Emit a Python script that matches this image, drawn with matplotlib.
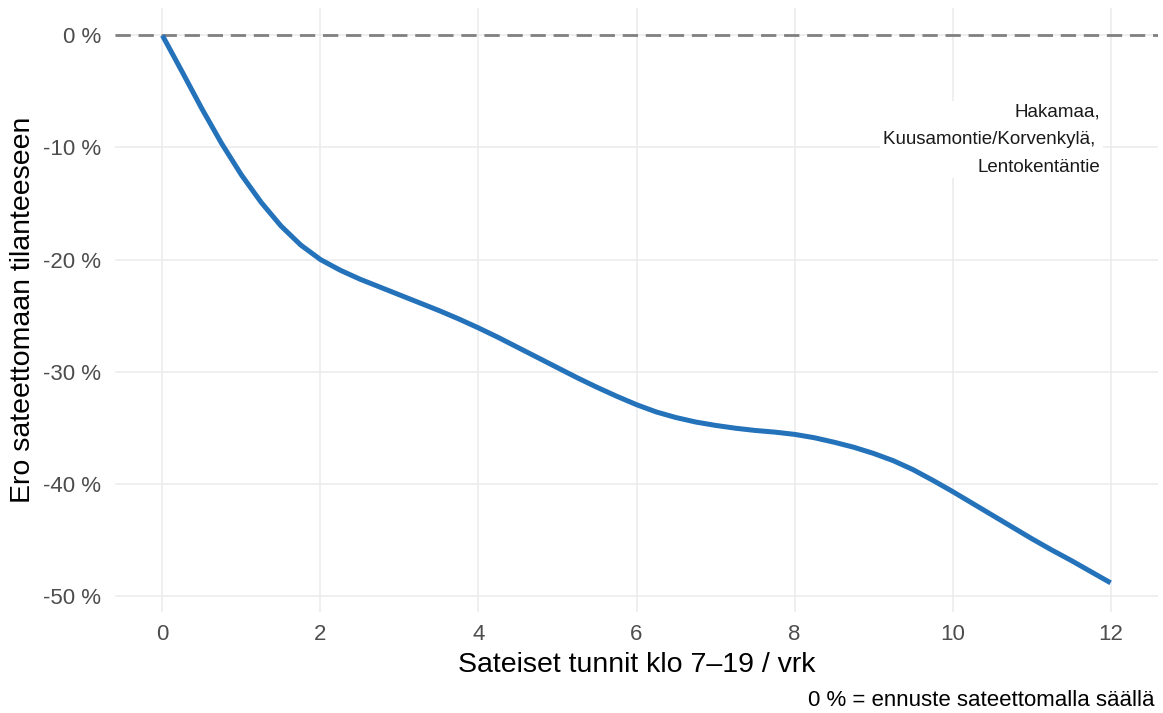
import matplotlib
matplotlib.use("Agg")
import matplotlib.pyplot as plt

plt.rcParams['font.family'] = ['Liberation Sans', 'DejaVu Sans']

# rainy hours per day (07-19) and difference to the dry-weather forecast, %
hours = [0, 0.25, 0.5, 0.75, 1, 1.25, 1.5, 1.75, 2, 2.25, 2.5, 2.75, 3, 3.25,
         3.5, 3.75, 4, 4.25, 4.5, 4.75, 5, 5.25, 5.5, 5.75, 6, 6.25, 6.5, 6.75,
         7, 7.25, 7.5, 7.75, 8, 8.25, 8.5, 8.75, 9, 9.25, 9.5, 9.75, 10, 10.25,
         10.5, 10.75, 11, 11.25, 11.5, 11.75, 12]
diff_pct = [0, -3.25, -6.55, -9.65, -12.45, -14.9, -17.0, -18.7, -20.0,
            -20.95, -21.75, -22.45, -23.15, -23.85, -24.55, -25.3, -26.1,
            -26.95, -27.85, -28.75, -29.65, -30.55, -31.4, -32.2, -32.95,
            -33.6, -34.1, -34.5, -34.8, -35.05, -35.25, -35.4, -35.6, -35.9,
            -36.3, -36.75, -37.3, -37.95, -38.75, -39.7, -40.7, -41.75, -42.8,
            -43.85, -44.9, -45.9, -46.85, -47.85, -48.85]

x_ticks = [0, 2, 4, 6, 8, 10, 12]
y_ticks = [0, -10, -20, -30, -40, -50]
y_ticklabels = ['0 %', '-10 %', '-20 %', '-30 %', '-40 %', '-50 %']

area_label = 'Hakamaa,\nKuusamontie/Korvenkylä, \nLentokentäntie'

fig = plt.figure(figsize=(11.63, 7.13), dpi=100)
ax = fig.add_axes([0.0989, 0.1417, 0.8968, 0.8471])

ax.axhline(0, color='#808080', lw=2.0, dashes=(5.5, 2.8), zorder=2)
ax.plot(hours, diff_pct, color='#2372BA', lw=3.6, solid_capstyle='butt',
        solid_joinstyle='round', zorder=3)

ax.text(11.87, -9.3, area_label, ha='right', va='center', fontsize=13.5,
        linespacing=1.8, color='#1a1a1a', zorder=4,
        bbox=dict(facecolor='white', edgecolor='none', pad=2))

ax.set_xlim(-0.6, 12.6)
ax.set_ylim(-51.45, 2.45)
ax.set_xticks(x_ticks)
ax.set_yticks(y_ticks)
ax.set_yticklabels(y_ticklabels)

ax.grid(True, color='#EBEBEB', lw=1.1, zorder=0)
ax.set_axisbelow(True)
for s in ax.spines.values():
    s.set_visible(False)
ax.tick_params(length=0, labelsize=16, labelcolor='#4D4D4D')
ax.tick_params(axis='x', pad=9)
ax.tick_params(axis='y', pad=10)

ax.set_xlabel('Sateiset tunnit klo 7–19 / vrk', fontsize=20.5, labelpad=5)
ax.set_ylabel('Ero sateettomaan tilanteeseen', fontsize=20.5, labelpad=5)

fig.text(0.993, 0.018, '0 % = ennuste sateettomalla säällä', ha='right',
         va='center', fontsize=16)

fig.savefig('out.png', dpi=100)
